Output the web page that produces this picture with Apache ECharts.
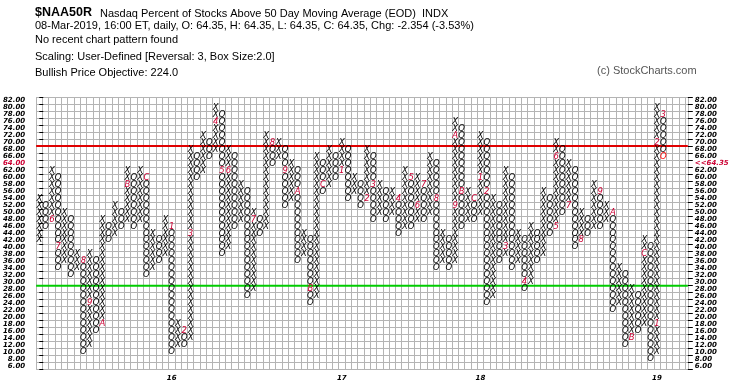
<!DOCTYPE html>
<html><head><meta charset="utf-8">
<script src="https://cdn.jsdelivr.net/npm/echarts@6/dist/echarts.min.js"></script>
<style>html,body{margin:0;padding:0;background:#fff}#c{width:745px;height:390px}</style>
</head><body><div id="c"></div>
<script>
// ---- data (box values = lower bound of each 2.0 box) ----
const firstColumnType = 'X';
const colLow  = [42,46,48,34,36,32,34,10,12,16,18,42,44,46,48,46,48,32,34,36,38,10,12,12,14,60,62,66,68,38,40,46,48,26,28,44,46,64,66,52,54,36,38,24,26,56,
                 58,60,62,54,56,52,54,48,50,48,50,44,46,46,48,48,50,34,36,34,36,46,48,48,50,24,26,36,38,34,36,28,30,36,38,44,46,50,52,40,42,44,46,46,48,22,24,12,14,16,18,8,10,66];
const colHigh = [54,52,62,60,50,48,38,36,38,36,48,46,52,50,62,60,62,60,44,42,48,46,18,16,68,66,72,70,80,78,68,66,58,56,50,48,72,70,70,68,64,62,44,42,66,64,
                 68,66,70,68,60,58,68,66,58,56,56,54,62,60,60,58,66,64,44,42,76,74,56,54,72,70,54,52,62,60,44,42,46,44,56,54,70,68,64,62,50,48,58,56,52,50,34,32,28,26,42,40,80,78];
const monthMarks = [[2,48,'6'],[3,40,'7'],[7,36,'8'],[8,24,'9'],[10,18,'A'],[14,58,'B'],[17,60,'C'],
                    [21,46,'1'],[23,16,'2'],[24,44,'3'],[28,76,'4'],[29,62,'5'],[30,62,'6'],[34,48,'7'],[37,70,'8'],[39,62,'9'],[41,56,'A'],[43,28,'B'],[45,58,'C'],
                    [48,62,'1'],[52,54,'2'],[53,58,'3'],[57,54,'4'],[59,60,'5'],[60,52,'6'],[61,58,'7'],[63,54,'8'],[66,52,'9'],[66,72,'A'],[67,56,'B'],[69,54,'C'],
                    [70,60,'1'],[71,56,'2'],[74,40,'3'],[77,30,'4'],[82,46,'5'],[82,66,'6'],[84,52,'7'],[86,42,'8'],[89,56,'9'],[91,50,'A'],[94,14,'B'],[96,38,'C'],
                    [98,18,'1'],[98,70,'2'],[99,78,'3']];
const currentBox = [99, 66];
const lastPrice = '64.35', lastPriceLevel = 64;
const yearLabels = [[21,'16'],[48,'17'],[70,'18'],[98,'19']];
const levelLines = [[70,'#e00000'],[30,'#00cc00']];

const boxSize = 2, yMin = 6, yMax = 84, xMin = -0.5, xMax = 102.9;
const markColor = '#cc0033';

// ---- build cells ----
const cells = [];
for (let i = 0; i < colLow.length; i++) {
  const isX = (i % 2 === 0) === (firstColumnType === 'X');
  for (let v = colLow[i]; v <= colHigh[i]; v += boxSize) {
    let g = isX ? 'X' : 'O', col = '#000';
    const m = monthMarks.find(mm => mm[0] === i && mm[1] === v);
    if (m) { g = m[2]; col = markColor; }
    if (i === currentBox[0] && v === currentBox[1]) { g = 'O'; col = '#ff0000'; }
    cells.push({x: i, y: v + boxSize / 2, g: g, c: col});
  }
}
const yearMap = {}; yearLabels.forEach(d => yearMap[d[0]] = d[1]);

const axisFont = {fontFamily: 'DejaVu Sans', fontStyle: 'italic', fontWeight: 'bold', fontSize: 7, color: '#000'};
function yLab(side) {
  return function (v) {
    if (v >= yMax) return '';
    if (v === lastPriceLevel) return side === 'left' ? '{r|' + v.toFixed(2) + '}' : '{r|<<' + lastPrice + '}';
    return v.toFixed(2);
  };
}
const richR = {r: {color: markColor, fontFamily: 'DejaVu Sans', fontStyle: 'italic', fontWeight: 'bold', fontSize: 7}};
const chart = echarts.init(document.getElementById('c'));
const hdr = (t, x, base, fs, w, col, fam) => ({type: 'text', x: x, y: base - 0.3465 * fs,
  style: {text: t, font: (w || 'normal') + ' ' + fs + 'px ' + (fam || '"Liberation Sans"'), fill: col || '#000', verticalAlign: 'middle'}});
chart.setOption({
  animation: false,
  backgroundColor: '#fff',
  grid: {left: 34.3, top: 97.1, width: 653.5, height: 272.4, containLabel: false},
  xAxis: {type: 'value', min: xMin, max: xMax, interval: 1,
    axisLine: {show: false}, axisTick: {show: false},
    splitLine: {show: true, lineStyle: {color: '#b4b4b4', width: 1}},
    axisLabel: Object.assign({show: true, customValues: yearLabels.map(d => d[0]), formatter: v => yearMap[v] || '', margin: 5}, axisFont)},
  yAxis: [
    {type: 'value', min: yMin, max: yMax, interval: boxSize, position: 'left',
      axisLine: {show: false}, axisTick: {show: true, inside: true, length: 4, lineStyle: {color: '#000'}},
      splitLine: {show: true, lineStyle: {color: '#b4b4b4', width: 1}},
      axisLabel: Object.assign({formatter: yLab('left'), margin: 11, verticalAlign: 'bottom', rich: richR}, axisFont)},
    {type: 'value', min: yMin, max: yMax, interval: boxSize, position: 'right',
      axisLine: {show: false}, axisTick: {show: true, inside: false, length: 5, lineStyle: {color: '#000'}},
      splitLine: {show: false},
      axisLabel: Object.assign({formatter: yLab('right'), margin: 7, verticalAlign: 'bottom', align: 'left', rich: richR}, axisFont)}
  ],
  graphic: [
    hdr('$NAA50R', 35, 17.3, 12.5, 'bold'),
    hdr('Nasdaq Percent of Stocks Above 50 Day Moving Average (EOD)  INDX', 100, 17.3, 11),
    hdr('08-Mar-2019, 16:00 ET, daily, O: 64.35, H: 64.35, L: 64.35, C: 64.35, Chg: -2.354 (-3.53%)', 35, 29.5, 11),
    hdr('No recent chart pattern found', 35, 43.3, 11),
    hdr('Scaling: User-Defined [Reversal: 3, Box Size:2.0]', 35, 61.2, 11),
    hdr('Bullish Price Objective: 224.0', 35, 76.8, 11),
    hdr('(c) StockCharts.com', 597, 75, 11, 'normal', '#555')
  ],
  series: [
    {type: 'custom', silent: true, data: cells.map(c => [c.x, c.y]), z: 5,
      renderItem: function (params, api) {
        const c = cells[params.dataIndex];
        const p = api.coord([c.x, c.y]);
        return {type: 'text', x: p[0], y: p[1],
          style: {text: c.g, fill: c.c, font: 'italic 8.5px "DejaVu Sans"', align: 'center', verticalAlign: 'middle'}};
      }},
    ...levelLines.map(l => ({type: 'line', silent: true, symbol: 'none', z: 3,
      data: [[xMin, l[0]], [xMax, l[0]]], lineStyle: {color: l[1], width: 2}}))
  ]
});
</script></body></html>
